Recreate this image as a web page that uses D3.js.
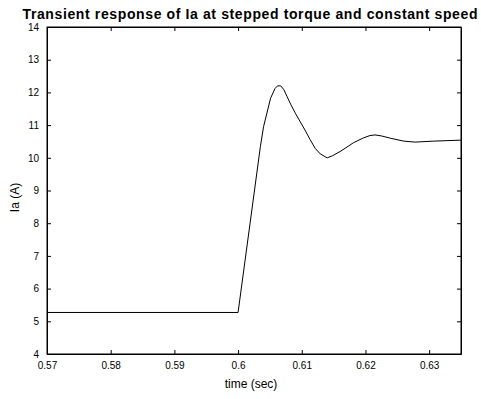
<!DOCTYPE html>
<html>
<head>
<meta charset="utf-8">
<script src="https://cdn.jsdelivr.net/npm/d3@7"></script>
<style>
  body { margin: 0; background: #fff; }
  svg text { font-family: "Liberation Sans", Arial, Helvetica, sans-serif; fill: #000; }
</style>
</head>
<body>
<svg id="chart" width="481" height="399"></svg>
<script>
// time (sec) and armature current Ia (A)
const time = [0.57, 0.6, 0.6035, 0.604, 0.6051, 0.6058, 0.6062, 0.6067, 0.6072,
              0.6077, 0.6083, 0.609, 0.6105, 0.6113, 0.6121, 0.6129, 0.6137, 0.614,
              0.6148, 0.616, 0.6168, 0.6181, 0.6197, 0.6207, 0.6215, 0.6225, 0.6239,
              0.626, 0.6278, 0.6307, 0.635];
const ia   = [5.27, 5.27, 10.34, 10.95, 11.82, 12.12, 12.2, 12.2, 12.08,
              11.87, 11.62, 11.36, 10.85, 10.56, 10.29, 10.12, 10.03, 10.0,
              10.06, 10.19, 10.29, 10.46, 10.61, 10.68, 10.7, 10.67, 10.6,
              10.51, 10.48, 10.51, 10.54];
const xTicks = [0.57, 0.58, 0.59, 0.6, 0.61, 0.62, 0.63];
const yTicks = [4, 5, 6, 7, 8, 9, 10, 11, 12, 13, 14];

const svg     = d3.select("#chart"),
      margin  = {top: 27, right: 20, bottom: 45, left: 47},
      width   = +svg.attr("width")  - margin.left - margin.right,
      height  = +svg.attr("height") - margin.top  - margin.bottom,
      x       = d3.scaleLinear().domain([0.57, 0.635]).range([0, width]),
      y       = d3.scaleLinear().domain([4, 14]).range([height, 0]),
      g       = svg.append("g")
                   .attr("transform", `translate(${margin.left},${margin.top})`);

const data = time.map((t, i) => ({t: t, v: ia[i]}));

// axes, ticks pointing inward like matlab
g.append("g")
    .attr("class", "axis axis-x")
    .attr("transform", `translate(0,${height})`)
    .call(d3.axisBottom(x).tickValues(xTicks).tickSizeInner(-4).tickSizeOuter(0)
            .tickPadding(8).tickFormat(d => String(+d.toFixed(2))));

g.append("g")
    .call(d3.axisTop(x).tickValues(xTicks).tickSizeInner(-4).tickSizeOuter(0).tickFormat(""));

g.append("g")
    .attr("class", "axis axis-y")
    .call(d3.axisLeft(y).tickValues(yTicks).tickSizeInner(-4).tickSizeOuter(0).tickPadding(8));

g.append("g")
    .attr("transform", `translate(${width},0)`)
    .call(d3.axisRight(y).tickValues(yTicks).tickSizeInner(-4).tickSizeOuter(0).tickFormat(""));

g.selectAll(".domain").attr("stroke", "#000");
g.selectAll(".tick line").attr("stroke", "#000");
g.selectAll(".tick text").style("font-size", "10px").attr("fill", "#000");

// box
g.append("rect")
    .attr("width", width)
    .attr("height", height)
    .attr("fill", "none")
    .attr("stroke", "#000")
    .attr("stroke-width", 1);

// the curve
g.append("path")
    .datum(data)
    .attr("fill", "none")
    .attr("stroke", "#000")
    .attr("stroke-width", 1)
    .attr("d", d3.line().x(d => x(d.t)).y(d => y(d.v)));

// axis labels
g.append("text")
    .attr("x", width / 2 - 3)
    .attr("y", height + 34)
    .attr("text-anchor", "middle")
    .style("font-size", "12px")
    .text("time (sec)");

g.append("text")
    .attr("transform", "rotate(-90)")
    .attr("x", -(y(9) + 7))
    .attr("y", -28)
    .attr("text-anchor", "middle")
    .style("font-size", "12px")
    .text("Ia (A)");

// title
svg.append("text")
    .attr("x", 250)
    .attr("y", 19)
    .attr("text-anchor", "middle")
    .attr("textLength", 455)
    .attr("lengthAdjust", "spacing")
    .style("font-size", "14px")
    .style("font-weight", "bold")
    .text("Transient response of Ia at stepped torque and constant speed");
</script>
</body>
</html>
